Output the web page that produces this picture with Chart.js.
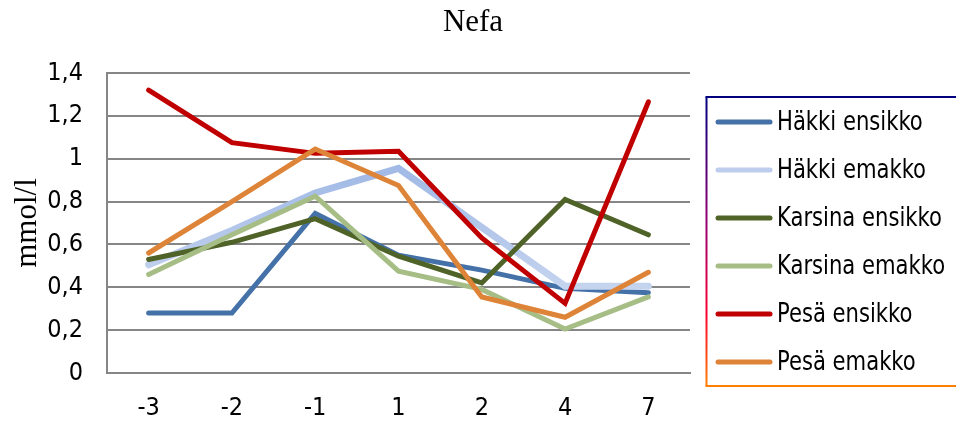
<!DOCTYPE html>
<html>
<head>
<meta charset="utf-8">
<title>Nefa</title>
<script src="https://cdn.jsdelivr.net/npm/chart.js@4.4.1/dist/chart.umd.min.js"></script>
<style>
  html, body { margin: 0; padding: 0; background: #ffffff; }
  #wrap { width: 956px; height: 421px; position: relative; }
</style>
</head>
<body>
<div id="wrap"><canvas id="nefa" width="956" height="421"></canvas></div>
<script>
// Sampling days relative to farrowing
const categories = ['-3', '-2', '-1', '1', '2', '4', '7'];

// NEFA concentration, mmol/l
const hakkiEnsikko   = [0.28, 0.28, 0.745, 0.55, 0.48, 0.395, 0.375];
const hakkiEmakko    = [0.505, 0.665, 0.84, 0.955, 0.68, 0.405, 0.405];
const karsinaEnsikko = [0.53, 0.61, 0.72, 0.545, 0.42, 0.81, 0.645];
const karsinaEmakko  = [0.46, 0.645, 0.825, 0.475, 0.39, 0.205, 0.355];
const pesaEnsikko    = [1.32, 1.075, 1.025, 1.035, 0.63, 0.325, 1.265];
const pesaEmakko     = [0.56, 0.80, 1.045, 0.875, 0.355, 0.26, 0.47];

const seriesNames = ['Häkki ensikko', 'Häkki emakko', 'Karsina ensikko',
                     'Karsina emakko', 'Pesä ensikko', 'Pesä emakko'];

const yTickLabels = ['0', '0,2', '0,4', '0,6', '0,8', '1', '1,2', '1,4'];

const chartTitle = 'Nefa';

const SANS = '"DejaVu Sans Condensed", "Liberation Sans", sans-serif';
const SERIF = '"Liberation Serif", "Times New Roman", serif';
const GRID = '#868686';

// Pale blue series uses a vertical fade, darker towards the top of the plot
function paleBlueStroke(ctx) {
  const chart = ctx.chart;
  const area = chart.chartArea;
  if (!area) return '#b9cbec';
  const g = chart.ctx.createLinearGradient(0, area.top, 0, area.bottom);
  g.addColorStop(0, '#98b2e2');
  g.addColorStop(0.35, '#a3bbe6');
  g.addColorStop(1, '#dfe7f5');
  return g;
}

const seriesStyles = [
  { color: '#4472a8', width: 5 },
  { color: paleBlueStroke, legend: '#bccdee', width: 7 },
  { color: '#4f6228', width: 5 },
  { color: '#a6be86', width: 5 },
  { color: '#c00000', width: 5 },
  { color: '#de8439', width: 5 }
];

const seriesValues = [hakkiEnsikko, hakkiEmakko, karsinaEnsikko,
                      karsinaEmakko, pesaEnsikko, pesaEmakko];

const datasets = seriesValues.map((vals, i) => ({
  label: seriesNames[i],
  data: vals,
  borderColor: seriesStyles[i].color,
  legendColor: seriesStyles[i].legend || seriesStyles[i].color,
  borderWidth: seriesStyles[i].width,
  pointRadius: 0,
  pointHoverRadius: 0,
  tension: 0,
  fill: false,
  borderCapStyle: 'round',
  borderJoinStyle: 'miter',
  order: seriesValues.length - i
}));

// Heading centred across the whole figure
const figureTitle = {
  id: 'figureTitle',
  afterDraw(chart) {
    const c = chart.ctx;
    c.save();
    c.font = '31px ' + SERIF;
    c.fillStyle = '#000000';
    c.textAlign = 'center';
    c.textBaseline = 'middle';
    c.fillText(chartTitle, 473, 23);
    c.restore();
  }
};

// Legend panel on the right with a two-tone frame
const sideLegend = {
  id: 'sideLegend',
  afterDraw(chart) {
    const c = chart.ctx;
    const left = 706.5, top = 97, bottom = 386, right = 970;
    c.save();
    c.lineWidth = 2;
    c.strokeStyle = '#000080';
    c.beginPath(); c.moveTo(left - 1, top); c.lineTo(right, top); c.stroke();
    const lg = c.createLinearGradient(0, top, 0, bottom);
    lg.addColorStop(0, '#000080');
    lg.addColorStop(0.45, '#9b0070');
    lg.addColorStop(0.75, '#ff0030');
    lg.addColorStop(1, '#ff8000');
    c.strokeStyle = lg;
    c.beginPath(); c.moveTo(left, top); c.lineTo(left, bottom); c.stroke();
    c.strokeStyle = '#ff8000';
    c.beginPath(); c.moveTo(left - 1, bottom); c.lineTo(right, bottom); c.stroke();

    chart.data.datasets.forEach((ds, i) => {
      const y = 122 + i * 48;
      c.strokeStyle = ds.legendColor;
      c.lineWidth = 5;
      c.lineCap = 'round';
      c.beginPath(); c.moveTo(718, y); c.lineTo(770, y); c.stroke();
      // labels are set in a tall, slightly narrowed face
      c.save();
      c.translate(777, y + 1);
      c.scale(0.87, 1);
      c.font = '27px ' + SANS;
      c.textAlign = 'left';
      c.textBaseline = 'middle';
      c.fillStyle = '#000000';
      c.fillText(ds.label, 0, 0);
      c.restore();
    });
    c.restore();
  }
};

new Chart(document.getElementById('nefa'), {
  type: 'line',
  data: { labels: categories, datasets },
  plugins: [figureTitle, sideLegend],
  options: {
    responsive: false,
    animation: false,
    events: [],
    layout: { padding: { left: 0, right: 266, top: 73, bottom: 0 } },
    plugins: {
      legend: { display: false },
      tooltip: { enabled: false },
      title: { display: false }
    },
    scales: {
      x: {
        type: 'category',
        offset: true,
        grid: { display: false, drawTicks: false },
        border: { display: true, color: GRID, width: 2 },
        ticks: { color: '#000000', font: { family: SANS, size: 25 }, padding: 20, maxRotation: 0 },
        afterFit(scale) { scale.height = 48; }
      },
      y: {
        min: 0,
        max: 1.4,
        grid: { color: GRID, lineWidth: 2, drawTicks: false },
        border: { display: true, color: GRID, width: 2 },
        ticks: {
          stepSize: 0.2,
          color: '#000000',
          font: { family: SANS, size: 25 },
          padding: 24,
          callback: (v, i) => yTickLabels[i]
        },
        title: {
          display: true,
          text: 'mmol/l',
          color: '#000000',
          font: { family: SERIF, size: 31, weight: 'normal', lineHeight: 1.2 },
          padding: { top: 9, bottom: 0 }
        },
        afterFit(scale) { scale.width = 107; }
      }
    }
  }
});
</script>
</body>
</html>
